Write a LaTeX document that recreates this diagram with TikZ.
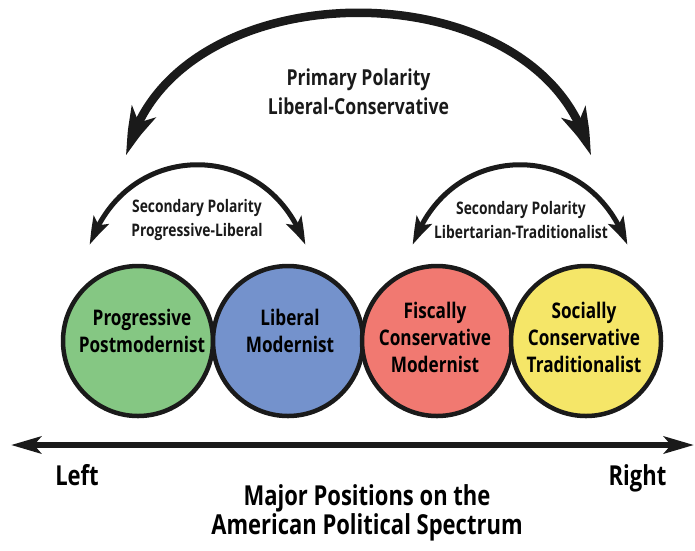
\documentclass[tikz,border=0pt]{standalone}
\usepackage{fontspec}
\setmainfont{Open Sans}[FakeStretch=0.8]
\usetikzlibrary{arrows.meta,bending}
\definecolor{progcol}{RGB}{133,199,131}
\definecolor{libcol}{RGB}{116,146,204}
\definecolor{fiscol}{RGB}{241,121,113}
\definecolor{soccol}{RGB}{245,230,104}
\definecolor{inkcol}{RGB}{26,26,26}
\newcommand{\fs}[2]{\fontsize{#1}{#2}\selectfont\bfseries}

\begin{document}
\begin{tikzpicture}[x=1pt,y=-1pt,
  bubble/.style={circle,draw=inkcol,line width=4.5pt,minimum size=150pt,inner sep=0pt},
  bubtext/.style={align=center,text=black,font=\fs{21.5}{27}},
  polarity/.style={align=center,text=inkcol},
  bigarc/.style={draw=inkcol,line width=8.5pt,{Stealth[length=48pt,width=26pt,inset=12pt,bend]}-{Stealth[length=48pt,width=26pt,inset=12pt,bend]}},
  smallarc/.style={draw=inkcol,line width=5pt,{Stealth[length=28pt,width=17pt,inset=6pt,bend]}-{Stealth[length=28pt,width=17pt,inset=6pt,bend]}},
  axis/.style={draw=inkcol,line width=6pt,{Stealth[length=30pt,width=17pt,inset=7pt]}-{Stealth[length=30pt,width=17pt,inset=7pt]}}]
\useasboundingbox (0,0) rectangle (695,550);

\node [bubble,fill=progcol] (prog) at (138,341) {};
\node [bubble,fill=libcol] (lib) at (288,341) {};
\node [bubble,fill=fiscol] (fis) at (437,341) {};
\node [bubble,fill=soccol] (soc) at (586,341) {};
\node [bubtext] (progtxt) at (142,331) {Progressive\\Postmodernist};
\node [bubtext] (libtxt) at (290,331) {Liberal\\Modernist};
\node [bubtext] (fistxt) at (435,337.5) {Fiscally\\Conservative\\Modernist};
\node [bubtext] (soctxt) at (584,337.5) {Socially\\Conservative\\Traditionalist};

\node [polarity,font=\fs{22}{29}] (primtxt) at (358.5,91.5) {Primary Polarity\\Liberal-Conservative};
\node [polarity,font=\fs{17.3}{24}] (sectxtl) at (197,220) {Secondary Polarity\\Progressive-Liberal};
\node [polarity,font=\fs{17.3}{24}] (sectxtr) at (521,220) {Secondary Polarity\\Libertarian-Traditionalist};

\coordinate (priml) at (127,156);
\coordinate (primr) at (590,156);
\coordinate (secll) at (90,245);
\coordinate (seclr) at (305,245);
\coordinate (secrl) at (413,245);
\coordinate (secrr) at (627,245);
\coordinate (axl) at (11,445);
\coordinate (axr) at (694,445);

\draw [bigarc] (priml) .. controls (170,-35) and (547,-35) .. (primr);
\draw [smallarc] (secll) .. controls (127,138) and (268,138) .. (seclr);
\draw [smallarc] (secrl) .. controls (450,138) and (590,138) .. (secrr);
\draw [axis] (axl) -- (axr);

\node [anchor=base,font=\fs{27.5}{28}] (lefttxt) at (77,485) {Left};
\node [anchor=base,font=\fs{27.5}{28}] (righttxt) at (637.5,485) {Right};
\node [align=center,font=\fs{27.5}{27}] (title) at (367,513) {Major Positions on the\\American Political Spectrum};
\end{tikzpicture}
\end{document}
